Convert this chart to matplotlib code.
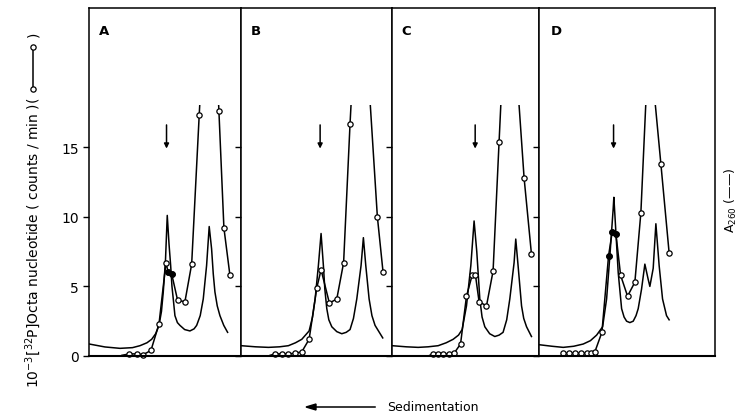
import matplotlib.pyplot as plt
from matplotlib.lines import Line2D
from matplotlib.patches import Rectangle

# fraction number / 10^-3 cpm of [32P]octanucleotide, panels A-D
frac_a = [4.55, 5.56, 6.66, 7.49, 8.55, 9.66, 10.62, 10.94, 11.41, 12.23, 13.24, 14.17, 15.21, 16.7, 17.93, 18.62, 19.45]
cpm_a = [0.05, 0.15, 0.15, 0.1, 0.4, 2.3, 6.7, 6.0, 5.9, 4.0, 3.9, 6.6, 17.3, 32.0, 17.6, 9.2, 5.8]
solid_a = [7, 8]

frac_b = [4.0, 4.69, 5.61, 6.52, 7.45, 8.37, 9.38, 10.44, 11.03, 12.18, 13.2, 14.14, 15.03, 16.07, 17.1, 18.8, 19.59]
cpm_b = [0.05, 0.15, 0.15, 0.15, 0.2, 0.3, 1.2, 4.9, 6.2, 3.8, 4.1, 6.7, 16.7, 27.0, 24.0, 10.0, 6.0]
solid_b = []

frac_c = [5.24, 5.7, 6.39, 7.08, 7.86, 8.59, 9.48, 10.3, 11.08, 11.54, 12.04, 13.06, 13.97, 14.8, 15.82, 16.83, 18.25, 19.27]
cpm_c = [0.05, 0.15, 0.15, 0.15, 0.15, 0.2, 0.86, 4.3, 5.8, 5.8, 3.9, 3.6, 6.1, 15.4, 26.7, 23.5, 12.8, 7.3]
solid_c = []

frac_d = [3.13, 3.35, 4.18, 4.97, 5.75, 6.58, 7.17, 7.72, 8.69, 9.61, 10.11, 10.62, 11.27, 12.23, 13.24, 14.07, 15.17, 16.83, 17.97]
cpm_d = [0.05, 0.2, 0.2, 0.2, 0.2, 0.2, 0.25, 0.3, 1.7, 7.2, 8.9, 8.8, 5.8, 4.3, 5.3, 10.3, 23.0, 13.8, 7.4]
solid_d = [9, 10, 11]

# A260 profiles (same vertical scale as drawn)
abs_x_a = [0.04, 2.2, 4.28, 6.0, 7.03, 8.0, 8.65, 9.2, 9.66, 10.0, 10.25, 10.55, 10.8, 11.05, 11.27, 11.45,
           11.63, 11.86, 12.2, 12.55, 13.2, 13.93, 14.5, 14.86, 15.35, 15.77, 16.23, 16.59, 16.92, 17.15,
           17.38, 17.7, 18.07, 18.6, 19.13]
abs_a = [0.86, 0.65, 0.55, 0.6, 0.74, 0.95, 1.2, 1.6, 2.2, 3.2, 4.6, 6.8, 10.1, 8.0, 6.5, 5.0,
         4.1, 2.9, 2.4, 2.2, 1.9, 1.8, 1.95, 2.2, 2.9, 4.1, 6.5, 9.3, 7.7, 5.9,
         4.6, 3.6, 2.9, 2.2, 1.7]

abs_x_b = [0.0, 2.0, 3.77, 5.3, 6.52, 7.5, 8.37, 9.38, 9.85, 10.21, 10.66, 11.03, 11.35, 11.55, 11.82,
           12.1, 12.51, 13.2, 13.89, 14.5, 15.03, 15.5, 15.96, 16.55, 16.87, 17.2, 17.66, 18.05, 18.48, 19.54]
abs_b = [0.74, 0.66, 0.62, 0.66, 0.74, 0.95, 1.2, 1.8, 2.8, 4.1, 6.5, 8.8, 6.5, 4.8, 3.4,
         2.6, 2.1, 1.75, 1.6, 1.7, 1.9, 2.7, 4.1, 6.5, 8.5, 6.5, 4.1, 2.9, 2.2, 1.3]

abs_x_c = [0.04, 2.0, 3.63, 5.0, 6.39, 7.5, 8.46, 9.2, 9.7, 10.3, 10.9, 11.35, 11.72, 12.14, 12.45,
           12.83, 13.5, 14.21, 14.8, 15.35, 15.85, 16.28, 16.87, 17.1, 17.42, 17.9, 18.2, 18.59, 19.27]
abs_c = [0.74, 0.66, 0.62, 0.66, 0.74, 0.95, 1.2, 1.5, 1.9, 3.6, 6.5, 9.7, 7.5, 4.1, 2.8,
         2.1, 1.6, 1.4, 1.5, 1.7, 2.6, 4.1, 6.7, 8.4, 6.5, 3.6, 2.7, 2.1, 1.4]

abs_x_d = [0.04, 1.8, 3.35, 4.8, 6.11, 7.1, 7.96, 8.79, 9.34, 9.79, 10.25, 10.34, 10.62, 10.94, 11.41,
           11.75, 12.1, 12.55, 13.01, 13.4, 13.7, 14.16, 14.62, 15.08, 15.31, 15.77, 16.14, 16.59,
           17.06, 17.61, 17.97]
abs_d = [0.81, 0.7, 0.62, 0.7, 0.86, 1.1, 1.5, 2.1, 4.1, 7.2, 10.6, 11.4, 8.9, 6.0, 3.4,
         2.8, 2.5, 2.4, 2.5, 2.9, 3.4, 4.8, 6.6, 5.5, 5.0, 6.3, 9.5, 6.5,
         4.1, 2.9, 2.6]

letters = ["A", "B", "C", "D"]
panel_span = [21.0, 20.8, 20.3, 24.3]   # number of fractions shown per panel
marker_frac = [10.7, 10.9, 11.5, 10.3]  # position of the marker arrow
clip_top = 18.0                          # off-scale part of the cpm curve is cut here

panels = [
    (frac_a, cpm_a, solid_a, abs_x_a, abs_a),
    (frac_b, cpm_b, solid_b, abs_x_b, abs_b),
    (frac_c, cpm_c, solid_c, abs_x_c, abs_c),
    (frac_d, cpm_d, solid_d, abs_x_d, abs_d),
]

plt.rcParams["font.family"] = "DejaVu Sans"

fig = plt.figure(figsize=(7.42, 4.14), dpi=100)
gs = fig.add_gridspec(1, 4, width_ratios=panel_span, left=89 / 742, right=715 / 742,
                      bottom=57 / 414, top=405 / 414, wspace=0)

for i, (fr, cpm, solid, ax_x, ab) in enumerate(panels):
    ax = fig.add_subplot(gs[0, i])
    span = panel_span[i]

    ax.plot(ax_x, ab, color="black", lw=1.1)

    line, = ax.plot(fr, cpm, color="black", lw=1.1, marker="o", ms=3.8,
                    mfc="white", mec="black", mew=0.9,
                    markevery=list(range(1, len(fr))))
    line.set_clip_path(Rectangle((0, -1), span, clip_top + 1, transform=ax.transData))
    if solid:
        ax.plot([fr[j] for j in solid], [cpm[j] for j in solid], "o",
                color="black", ms=3.8)

    ax.annotate("", xy=(marker_frac[i], 14.9), xytext=(marker_frac[i], 16.6),
                arrowprops=dict(arrowstyle="-|>", color="black", lw=1.1,
                                mutation_scale=7, shrinkA=0, shrinkB=0))

    ax.text(0.1, 0.935, letters[i], transform=ax.transAxes, ha="center",
            va="center", fontsize=9.5, fontweight="bold")

    ax.set_xlim(0, span)
    ax.set_ylim(0, 25)
    ax.set_xticks([])
    ax.set_yticks([0, 5, 10, 15])
    ax.tick_params(axis="y", direction="out", length=4, width=1, labelsize=10)
    if i > 0:
        ax.tick_params(labelleft=False)
    for s in ax.spines.values():
        s.set_linewidth(1.1)
    ax.spines["bottom"].set_linewidth(1.5)

# left axis title with its line symbol
fig.text(33 / 742, 1 - 97 / 414,
         r"$10^{-3}\left[^{32}\mathrm{P}\right]$Octa nucleotide ( counts / min )(",
         rotation=90, ha="center", va="top", fontsize=10)
fig.add_artist(Line2D([33 / 742, 33 / 742], [1 - 90 / 414, 1 - 48 / 414],
                      transform=fig.transFigure, color="black", lw=1.1,
                      marker="o", ms=3.8, mfc="white", mec="black", mew=0.9))
fig.text(33 / 742, 1 - 34 / 414, ")", rotation=90, ha="center", va="center", fontsize=10)

# right axis title
fig.text(731 / 742, 1 - 200 / 414, r"A$_{260}$ (——)", rotation=90,
         ha="center", va="center", fontsize=9)

# sedimentation direction
fig.add_artist(Line2D([308 / 742, 375 / 742], [1 - 408 / 414] * 2,
                      transform=fig.transFigure, color="black", lw=1.1))
fig.patches.append(plt.Polygon(
    [[306 / 742, 1 - 408 / 414], [316 / 742, 1 - 405 / 414], [316 / 742, 1 - 411 / 414]],
    closed=True, color="black", transform=fig.transFigure, figure=fig))
fig.text(387 / 742, 1 - 408 / 414, "Sedimentation", ha="left", va="center", fontsize=9)

fig.savefig("out.png", dpi=100)
